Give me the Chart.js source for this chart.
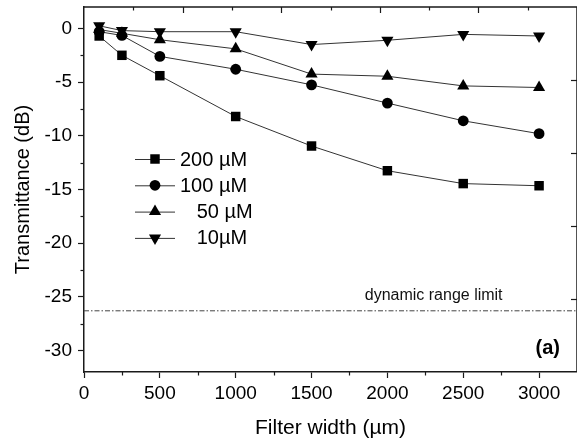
<!DOCTYPE html>
<html>
<head>
<meta charset="utf-8">
<title>Transmittance vs filter width</title>
<script src="https://cdn.jsdelivr.net/npm/chart.js@4.4.1/dist/chart.umd.min.js"></script>
<style>
  html, body { margin: 0; padding: 0; background: #fff; overflow: hidden; }
  #wrap { width: 584px; height: 444px; }
</style>
</head>
<body>
<div id="wrap"><canvas id="chart" width="584" height="444"></canvas></div>
<script>
// Filter widths (um) and measured transmittance (dB) per concentration
const filterWidths = [100, 250, 500, 1000, 1500, 2000, 2500, 3000];
const t200 = [-0.7, -2.5, -4.4, -8.2, -10.95, -13.25, -14.45, -14.65];
const t100 = [-0.3, -0.65, -2.6, -3.8, -5.25, -6.95, -8.6, -9.8];
const t50 = [-0.1, -0.45, -1.05, -1.9, -4.25, -4.45, -5.35, -5.5];
const t10 = [0.25, -0.2, -0.3, -0.3, -1.5, -1.1, -0.55, -0.7];
const seriesLabels = ['200 µM', '100 µM', '   50 µM', '   10µM'];

const rangeLimit = -26.3;
const rangeLabel = 'dynamic range limit';
const rangeLabelX = 2305;
const panelTag = '(a)';

const xMin = 0, xMax = 3250;
const yMin = -32, yMax = 2;
const xTicks = [0, 500, 1000, 1500, 2000, 2500, 3000];
const xMinorTicks = [250, 750, 1250, 1750, 2250, 2750];
const yTicks = [0, -5, -10, -15, -20, -25, -30];
const yMinorTicks = [-2.5, -7.5, -12.5, -17.5, -22.5, -27.5];
// frame ticks on the top (10 divisions) and right (5 divisions) edges
const topTicks = [1, 2, 3, 4, 5, 6, 7, 8, 9];
const rightTicks = [1, 2, 3, 4];

const FONT = 'Liberation Sans, Arial, Helvetica, sans-serif';
const INK = '#1a1a1a';
Chart.defaults.font.family = FONT;
Chart.defaults.color = '#000';

const markers = [
  { pointStyle: 'rect', rotation: 0, radius: 6.7 },
  { pointStyle: 'circle', rotation: 0, radius: 5.4 },
  { pointStyle: 'triangle', rotation: 0, radius: 7 },
  { pointStyle: 'triangle', rotation: 180, radius: 7 }
];

function series(label, values, m) {
  return {
    label: label,
    data: filterWidths.map((x, i) => ({ x: x, y: values[i] })),
    borderColor: '#333',
    borderWidth: 1,
    backgroundColor: '#000',
    pointBackgroundColor: '#000',
    pointBorderWidth: 0,
    pointStyle: m.pointStyle,
    rotation: m.rotation,
    pointRadius: m.radius,
    pointHoverRadius: m.radius
  };
}

const datasets = [
  series(seriesLabels[0], t200, markers[0]),
  series(seriesLabels[1], t100, markers[1]),
  series(seriesLabels[2], t50, markers[2]),
  series(seriesLabels[3], t10, markers[3]),
  {
    label: rangeLabel,
    data: [{ x: xMin, y: rangeLimit }, { x: xMax, y: rangeLimit }],
    borderColor: '#444',
    borderWidth: 1,
    borderDash: [5, 2, 1.5, 2],
    pointRadius: 0,
    pointHoverRadius: 0
  }
];

function line(ctx, x1, y1, x2, y2) {
  ctx.beginPath();
  ctx.moveTo(x1, y1);
  ctx.lineTo(x2, y2);
  ctx.stroke();
}

// keep the plot box fixed: no extra room for overhanging tick labels
function noLabelPadding(s) {
  s.paddingTop = 0;
  s.paddingBottom = 0;
  s.paddingLeft = 0;
  s.paddingRight = 0;
}

// top/right frame, minor ticks and the inward ticks on the top and right edges
const frameTicks = {
  id: 'frameTicks',
  afterDatasetsDraw(chart) {
    const { ctx, chartArea: a, scales } = chart;
    ctx.save();
    ctx.strokeStyle = INK;
    ctx.lineWidth = 1.5;
    ctx.beginPath();
    ctx.moveTo(a.left, a.top);
    ctx.lineTo(a.right, a.top);
    ctx.lineTo(a.right, a.bottom);
    ctx.stroke();

    ctx.lineWidth = 1.2;
    xMinorTicks.forEach(v => {
      const px = Math.round(scales.x.getPixelForValue(v)) + 0.5;
      line(ctx, px, a.bottom, px, a.bottom + 3.5);
    });
    yMinorTicks.forEach(v => {
      const py = Math.round(scales.y.getPixelForValue(v)) + 0.5;
      line(ctx, a.left, py, a.left - 3.5, py);
    });
    topTicks.forEach(v => {
      const px = Math.round(scales.x2.getPixelForValue(v)) + 0.5;
      const len = v % 2 === 0 ? 6 : 3.5;
      line(ctx, px, a.top, px, a.top + len);
    });
    rightTicks.forEach(v => {
      const py = Math.round(scales.y2.getPixelForValue(v)) + 0.5;
      line(ctx, a.right, py, a.right - 6, py);
    });
    ctx.restore();
  }
};

// legend with line + marker samples, range label and panel tag
const annotations = {
  id: 'annotations',
  afterDraw(chart) {
    const { ctx, chartArea: a, scales } = chart;
    ctx.save();

    const lx = 135, lw = 40, ly = 159, lstep = 26.3;
    ctx.font = '20px ' + FONT;
    ctx.textBaseline = 'middle';
    ctx.textAlign = 'left';
    seriesLabels.forEach((label, i) => {
      const y = ly + i * lstep;
      ctx.strokeStyle = '#333';
      ctx.lineWidth = 1;
      line(ctx, lx, y + 0.5, lx + lw, y + 0.5);
      ctx.fillStyle = '#000';
      Chart.helpers.drawPoint(ctx, {
        pointStyle: markers[i].pointStyle,
        rotation: markers[i].rotation,
        radius: markers[i].radius,
        borderWidth: 0
      }, lx + lw / 2, y);
      ctx.fillText(label, lx + lw + 5, y + 1);
    });

    ctx.font = '16px ' + FONT;
    ctx.textAlign = 'center';
    ctx.textBaseline = 'alphabetic';
    ctx.fillStyle = '#111';
    ctx.fillText(rangeLabel, scales.x.getPixelForValue(rangeLabelX), scales.y.getPixelForValue(rangeLimit) - 11);

    ctx.font = 'bold 20px ' + FONT;
    ctx.textAlign = 'right';
    ctx.textBaseline = 'middle';
    ctx.fillStyle = '#000';
    ctx.fillText(panelTag, a.right - 17, a.bottom - 24);
    ctx.restore();
  }
};

new Chart(document.getElementById('chart'), {
  type: 'line',
  data: { datasets: datasets },
  options: {
    responsive: false,
    animation: false,
    layout: { padding: { top: 7, right: 0, left: 0, bottom: 0 } },
    plugins: {
      legend: { display: false },
      tooltip: { enabled: false }
    },
    scales: {
      x: {
        type: 'linear',
        position: 'bottom',
        min: xMin,
        max: xMax,
        afterBuildTicks: s => { s.ticks = xTicks.map(v => ({ value: v })); },
        afterFit: s => { s.height = 72; noLabelPadding(s); },
        grid: { drawOnChartArea: false, tickLength: 6, tickWidth: 1.2, tickColor: INK },
        border: { color: INK, width: 1.5 },
        ticks: {
          font: { size: 19 }, color: '#000', padding: 4, maxRotation: 0, autoSkip: false,
          callback: v => String(v)
        },
        title: { display: true, text: 'Filter width (µm)', font: { size: 21 }, color: '#000', padding: { top: 0, bottom: 3 } }
      },
      y: {
        type: 'linear',
        position: 'left',
        min: yMin,
        max: yMax,
        afterBuildTicks: s => { s.ticks = yTicks.map(v => ({ value: v })); },
        afterFit: s => { s.width = 84; noLabelPadding(s); },
        grid: { drawOnChartArea: false, tickLength: 6, tickWidth: 1.2, tickColor: INK },
        border: { color: INK, width: 1.5 },
        ticks: { font: { size: 19 }, color: '#000', padding: 6, callback: v => String(v) },
        title: { display: true, text: 'Transmittance (dB)', font: { size: 20 }, color: '#000', padding: { top: 11, bottom: 0 } }
      },
      x2: { type: 'linear', position: 'top', display: false, min: 0, max: 10 },
      y2: { type: 'linear', position: 'right', display: false, min: 0, max: 5, reverse: true }
    }
  },
  plugins: [frameTicks, annotations]
});
</script>
</body>
</html>
